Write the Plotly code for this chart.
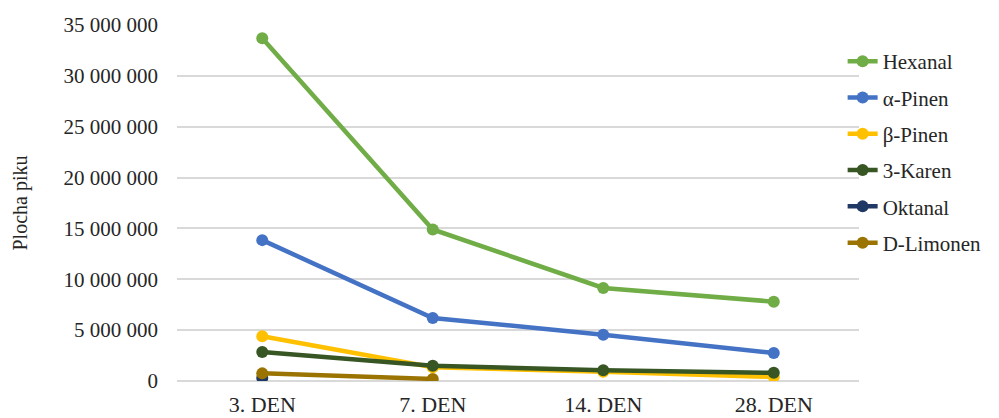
import plotly.graph_objects as go

categories = ["3. DEN", "7. DEN", "14. DEN", "28. DEN"]
hexanal = [33700000, 14900000, 9150000, 7800000]
a_pinen = [13850000, 6200000, 4550000, 2750000]
b_pinen = [4400000, 1350000, 900000, 400000]
karen = [2850000, 1500000, 1050000, 800000]
oktanal = [300000, None, None, None]
limonen = [750000, 200000, None, None]

names = ["Hexanal", "α-Pinen", "β-Pinen", "3-Karen", "Oktanal", "D-Limonen"]
series = [hexanal, a_pinen, b_pinen, karen, oktanal, limonen]
colors = ["#70AD47", "#4472C4", "#FFC000", "#375623", "#1F3864", "#9A7300"]

tickvals = [0, 5000000, 10000000, 15000000, 20000000, 25000000, 30000000, 35000000]
ticktext = ["0", "5 000 000", "10 000 000", "15 000 000", "20 000 000",
            "25 000 000", "30 000 000", "35 000 000"]

fig = go.Figure()
order = [4, 5, 2, 3, 1, 0]
for i in order:
    fig.add_trace(go.Scatter(
        x=categories, y=series[i], name=names[i], mode="lines+markers",
        line=dict(color=colors[i], width=4.5),
        marker=dict(color=colors[i], size=12),
        legendgroup=names[i], legendrank=i + 1,
    ))

font = "Times New Roman, Liberation Serif, serif"
fig.update_layout(
    width=991, height=410,
    margin=dict(l=169, r=134, t=17, b=37),
    paper_bgcolor="white", plot_bgcolor="white",
    font=dict(family=font, size=21, color="#262626"),
    showlegend=True,
    legend=dict(x=0.976, y=0.955, xanchor="left", yanchor="top",
                font=dict(family=font, size=21, color="#262626"), tracegroupgap=6,
                bgcolor="rgba(255,255,255,0)"),
    xaxis=dict(showgrid=False, showline=False, ticks="", automargin=False,
               tickfont=dict(family=font, size=22), range=[-0.5, 3.5],
               ticklabelstandoff=8),
    yaxis=dict(range=[0, 35000000], tickvals=tickvals, ticktext=ticktext,
               automargin=False,
               showgrid=True, gridcolor="#D9D9D9", gridwidth=1.5,
               zeroline=True, zerolinecolor="#D9D9D9", zerolinewidth=1.5,
               tickfont=dict(family=font, size=21), ticks="", ticklabelstandoff=18,
               title=dict(text="Plocha piku", font=dict(family=font, size=20), standoff=30)),
)
fig.write_html("out.html")
